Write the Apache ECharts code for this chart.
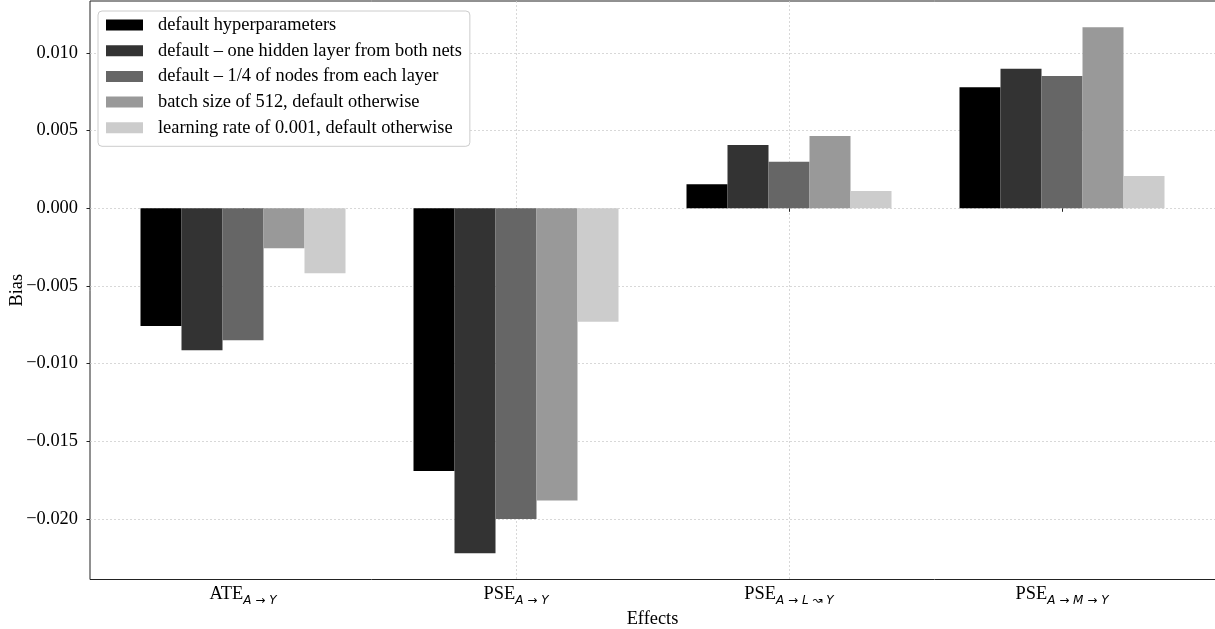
<!DOCTYPE html>
<html>
<head>
<meta charset="utf-8">
<script src="https://cdn.jsdelivr.net/npm/echarts@6/dist/echarts.min.js"></script>
<style>
  html, body { margin: 0; padding: 0; background: #fff; }
  #chart { width: 1215px; height: 629px; }
</style>
</head>
<body>
<div id="chart"></div>
<script>
// Effect names and their causal-path subscripts
const effectNames = ['ATE', 'PSE', 'PSE', 'PSE'];
const effectPaths = ['A→Y', 'A→Y', 'A→L↝Y', 'A→M→Y'];
const categories = effectNames.map((n, i) => n + '|' + effectPaths[i]);

// Hyperparameter settings (legend entries)
const seriesNames = [
  'default hyperparameters',
  'default \u2013 one hidden layer from both nets',
  'default \u2013 1/4 of nodes from each layer',
  'batch size of 512, default otherwise',
  'learning rate of 0.001, default otherwise'
];

// Bias of each effect estimate per setting
const defaultHyper   = [-0.00757, -0.0169, 0.00154, 0.00779];
const oneHiddenLayer = [-0.00914, -0.0222, 0.00407, 0.00898];
const quarterNodes   = [-0.00849, -0.0200, 0.00300, 0.00851];
const batch512       = [-0.00257, -0.0188, 0.00465, 0.01165];
const lr0001         = [-0.00418, -0.0073, 0.00111, 0.00208];
const seriesValues = [defaultHyper, oneHiddenLayer, quarterNodes, batch512, lr0001];

const seriesColors = ['#000000', '#333333', '#666666', '#999999', '#cccccc'];

// y range padded 5% beyond the data extent on both sides
const yMin = -0.02389;
const yMax = 0.01334;

const serif = 'Liberation Serif';
const fs = 18.4;
const gridLine = { show: true, showMinLine: false, showMaxLine: false,
  lineStyle: { color: '#cfcfcf', width: 0.8, type: [2, 2] } };

function effectLabel(value) {
  const [name, path] = value.split('|');
  // italic letters, upright arrows
  let sub = '';
  for (const ch of path) {
    if (ch === '→' || ch === '↝') sub += '{a| ' + ch + ' }';
    else sub += '{i|' + ch + '}';
  }
  return '{m|' + name + '}' + sub;
}

const chart = echarts.init(document.getElementById('chart'), null, { renderer: 'canvas' });

chart.setOption({
  animation: false,
  backgroundColor: '#ffffff',
  grid: [
    { left: 90, right: -1, top: 1, bottom: 49.5, outerBoundsMode: 'none', containLabel: false,
      show: true, borderColor: '#222', borderWidth: 1, backgroundColor: 'transparent' },
    { left: 106.5, width: 1092, top: 1, bottom: 49.5, outerBoundsMode: 'none', containLabel: false }
  ],
  xAxis: [
    { type: 'value', gridIndex: 0, min: 0, max: 1, show: false },
    {
      type: 'category',
      gridIndex: 1,
      data: categories,
      axisLine: { show: false },
      axisTick: { show: true, alignWithLabel: true, length: 3.5, lineStyle: { color: '#222', width: 1 } },
      splitLine: Object.assign({ alignWithLabel: true }, gridLine),
      axisLabel: {
        margin: 3,
        formatter: effectLabel,
        rich: {
          m: { fontFamily: serif, fontSize: fs, color: '#000', lineHeight: 24 },
          i: { fontFamily: 'DejaVu Sans', fontStyle: 'italic', fontSize: 12, color: '#000', verticalAlign: 'bottom' },
          a: { fontFamily: 'DejaVu Sans', fontSize: 12, color: '#000', verticalAlign: 'bottom' }
        }
      },
      name: 'Effects',
      nameLocation: 'middle',
      nameMoveOverlap: false,
      nameGap: 40,
      nameTextStyle: { fontFamily: serif, fontSize: fs, color: '#000', verticalAlign: 'middle' }
    }
  ],
  yAxis: [
    {
      type: 'value',
      gridIndex: 0,
      min: yMin,
      max: yMax,
      splitNumber: 8,
      axisLine: { show: false },
      axisTick: { show: true, length: 3.5, lineStyle: { color: '#222', width: 1 } },
      splitLine: gridLine,
      axisLabel: {
        showMinLabel: false,
        showMaxLabel: false,
        margin: 12,
        fontFamily: serif,
        fontSize: fs,
        color: '#000',
        formatter: v => v.toFixed(3).replace('-', '\u2212')
      },
      name: 'Bias',
      nameLocation: 'middle',
      nameMoveOverlap: false,
      nameGap: 73,
      nameRotate: 90,
      nameTextStyle: { fontFamily: serif, fontSize: fs, color: '#000', verticalAlign: 'middle' }
    },
    { type: 'value', gridIndex: 1, min: yMin, max: yMax, show: false, splitLine: { show: false } }
  ],
  legend: {
    orient: 'vertical',
    left: 98,
    top: 11,
    data: seriesNames,
    itemWidth: 37,
    itemHeight: 11,
    itemGap: 7.7,
    padding: [5, 8, 9.5, 8],
    backgroundColor: '#ffffff',
    borderColor: '#cccccc',
    borderWidth: 1,
    borderRadius: 4,
    icon: 'rect',
    itemStyle: { borderWidth: 0 },
    textStyle: { fontFamily: serif, fontSize: fs, color: '#000', lineHeight: 18, padding: [0, 0, 0, 10] },
    z: 10
  },
  series: seriesNames.map((name, k) => ({
    name: name,
    type: 'bar',
    xAxisIndex: 1,
    yAxisIndex: 1,
    data: seriesValues[k],
    barWidth: 41,
    barGap: '0%',
    itemStyle: { color: seriesColors[k] }
  }))
});
</script>
</body>
</html>
